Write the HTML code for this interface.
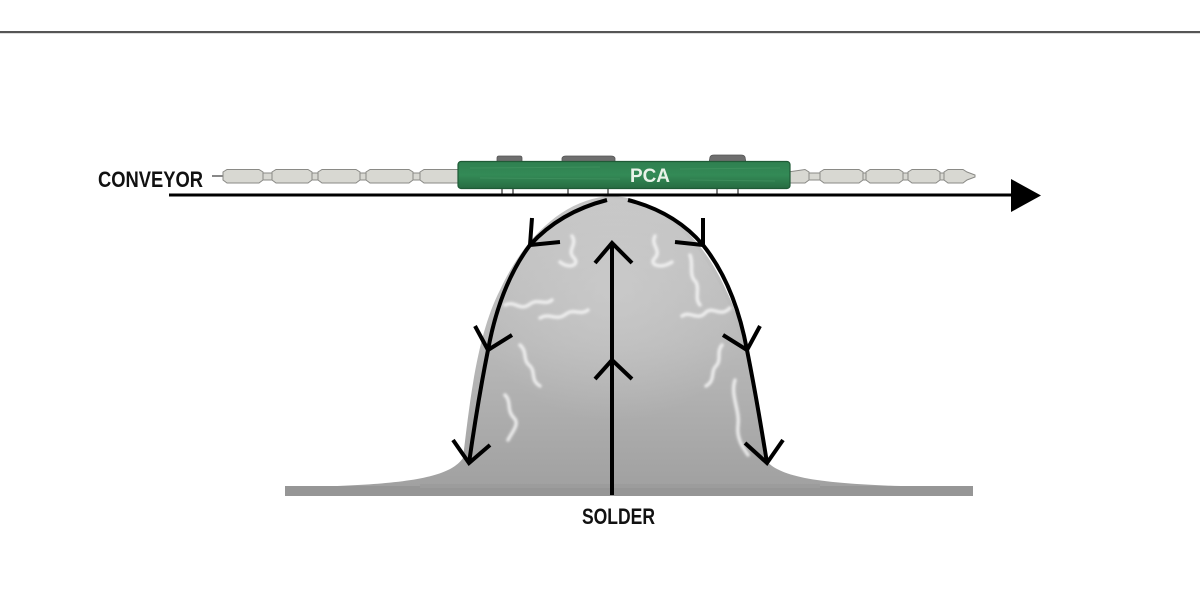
<!DOCTYPE html>
<html>
<head>
<meta charset="utf-8">
<style>
  html,body{margin:0;padding:0;background:#fff;}
  body{width:1200px;height:600px;overflow:hidden;}
  svg{display:block;}
  text{font-family:"Liberation Sans",Arial,sans-serif;font-weight:bold;}
</style>
</head>
<body>
<svg width="1200" height="600" viewBox="0 0 1200 600" xmlns="http://www.w3.org/2000/svg">
  <defs>
    <linearGradient id="domeG" x1="0" y1="0" x2="0" y2="1">
      <stop offset="0" stop-color="#c6c6c6"/>
      <stop offset="0.5" stop-color="#b9b9b9"/>
      <stop offset="1" stop-color="#a0a0a0"/>
    </linearGradient>
    <radialGradient id="domeR" cx="0.5" cy="0.35" r="0.5">
      <stop offset="0" stop-color="#d0d0d0" stop-opacity="0.6"/>
      <stop offset="1" stop-color="#d0d0d0" stop-opacity="0"/>
    </radialGradient>
    <linearGradient id="pcaG" x1="0" y1="0" x2="0" y2="1">
      <stop offset="0" stop-color="#2f8050"/>
      <stop offset="0.5" stop-color="#338a56"/>
      <stop offset="1" stop-color="#276c42"/>
    </linearGradient>
    <filter id="blur1"><feGaussianBlur stdDeviation="1.2"/></filter>
  </defs>

  <!-- top rule -->
  <rect x="0" y="31" width="1200" height="2" fill="#555"/>
  <rect x="0" y="33" width="1200" height="1" fill="#ddd"/>

  <!-- dome -->
  <path d="M300,487 C410,485 450,477 463,458 C470,400 477,335 500,290 C525,236 565,198 612,196 C660,198 702,236 726,290 C749,336 757,400 764,458 C778,478 820,485 940,487 L940,492 L300,492 Z" fill="url(#domeG)"/>
  <path d="M470,460 C476,400 482,335 505,290 C528,238 566,200 612,198 C658,200 698,238 722,290 C745,336 752,400 758,460 Z" fill="url(#domeR)"/>
  <!-- solder base -->
  <rect x="285" y="486" width="688" height="10" fill="#969696"/>
  <rect x="420" y="484" width="400" height="4" fill="#9c9c9c"/>

  <!-- white streaks -->
  <g fill="none" stroke="#f6f6f6" stroke-width="3.5" opacity="0.85" filter="url(#blur1)" stroke-linecap="round">
    <path d="M572,236 C578,245 566,250 574,258 C580,264 570,270 560,262"/>
    <path d="M540,318 C550,312 556,322 566,314 C574,308 580,316 588,310"/>
    <path d="M505,305 C515,300 520,312 530,304 C538,298 545,306 552,300"/>
    <path d="M520,345 C528,352 522,360 530,366 C536,372 530,380 540,386"/>
    <path d="M505,395 C512,402 506,410 514,418 C520,424 512,432 508,440"/>
    <path d="M655,236 C650,245 662,250 655,258 C648,264 660,270 672,262"/>
    <path d="M682,316 C690,310 698,322 706,312 C714,306 720,318 730,308"/>
    <path d="M690,255 C694,265 688,275 696,282 C700,290 694,298 700,305"/>
    <path d="M722,345 C716,352 722,360 716,366 C710,372 716,380 706,386"/>
    <path d="M735,380 C730,395 740,410 738,425 C736,440 745,450 748,455"/>
  </g>

  <!-- conveyor chain left -->
  <rect x="212" y="175" width="11" height="2" fill="#888"/>
  <g fill="#d8d8d2" stroke="#8a8a86" stroke-width="1">
    <rect x="258" y="173" width="18" height="7" />
    <rect x="308" y="173" width="14" height="7" />
    <rect x="356" y="173" width="16" height="7" />
    <rect x="408" y="173" width="16" height="7" />
    <polygon points="223,172 227,169.5 259,169.5 263,172 263,180 259,183 227,183 223,180"/>
    <polygon points="272,172 276,169.5 308,169.5 312,172 312,180 308,183 276,183 272,180"/>
    <polygon points="318,172 322,169.5 356,169.5 360,172 360,180 356,183 322,183 318,180"/>
    <polygon points="366,172 370,169.5 409,169.5 413,172 413,180 409,183 370,183 366,180"/>
    <polygon points="420,172 424,169.5 458,169.5 460,172 460,180 458,183 424,183 420,180"/>
  </g>
  <!-- conveyor chain right -->
  <g fill="#d8d8d2" stroke="#8a8a86" stroke-width="1">
    <rect x="806" y="173" width="16" height="7"/>
    <rect x="860" y="173" width="10" height="7"/>
    <rect x="900" y="173" width="12" height="7"/>
    <rect x="937" y="173" width="10" height="7"/>
    <polygon points="788,172 805,169.5 809,172 809,180 805,183 788,183"/>
    <polygon points="820,172 824,169.5 859,169.5 863,172 863,180 859,183 824,183 820,180"/>
    <polygon points="866,172 870,169.5 899,169.5 903,172 903,180 899,183 870,183 866,180"/>
    <polygon points="908,172 912,169.5 936,169.5 940,172 940,180 936,183 912,183 908,180"/>
    <polygon points="944,172 948,169.5 963,169.5 967,172 975,175 975,177 967,180 963,183 948,183 944,180"/>
  </g>

  <!-- PCA components -->
  <g fill="#6e6e6e" stroke="#555" stroke-width="0.8">
    <path d="M497,163 L497,158 Q497,156 499,156 L520,156 Q522,156 522,158 L522,163 Z"/>
    <path d="M562,163 L562,158 Q563,156 566,156 L611,156 Q614,156 615,158 L615,163 Z"/>
    <path d="M709,163 L710,157 Q711,155 714,155 L741,155 Q744,155 745,157 L746,163 Z"/>
  </g>
  <!-- legs -->
  <g stroke="#555" stroke-width="1.5">
    <line x1="502" y1="186" x2="502" y2="194"/>
    <line x1="513" y1="186" x2="513" y2="194"/>
    <line x1="568" y1="186" x2="568" y2="194"/>
    <line x1="608" y1="186" x2="608" y2="194"/>
    <line x1="717" y1="186" x2="717" y2="194"/>
    <line x1="738" y1="186" x2="738" y2="194"/>
  </g>
  <!-- PCA board -->
  <rect x="458" y="161.5" width="332" height="27" rx="3" fill="url(#pcaG)" stroke="#1f5a36" stroke-width="1.2"/>
  <g stroke="#4a9a68" stroke-width="1" opacity="0.5">
    <line x1="470" y1="168" x2="600" y2="167"/>
    <line x1="480" y1="178" x2="620" y2="179"/>
    <line x1="680" y1="169" x2="780" y2="168"/>
    <line x1="690" y1="180" x2="775" y2="181"/>
  </g>
  <text x="630" y="182" font-size="19" fill="#e8f2e8" textLength="40" lengthAdjust="spacingAndGlyphs">PCA</text>

  <!-- conveyor line & arrow -->
  <rect x="169" y="193.5" width="845" height="3" fill="#000"/>
  <polygon points="1011,179 1041,195.5 1011,212" fill="#000"/>

  <!-- labels -->
  <text x="98" y="187" font-size="22" fill="#111" textLength="105" lengthAdjust="spacingAndGlyphs">CONVEYOR</text>
  <text x="582" y="524" font-size="22" fill="#111" textLength="73" lengthAdjust="spacingAndGlyphs">SOLDER</text>

  <!-- flow arrows -->
  <g fill="none" stroke="#000" stroke-width="4" stroke-linejoin="miter">
    <path d="M607,200 Q560,212 530,245 Q500,285 488,350 Q478,400 469,463"/>
    <path d="M628,200 Q675,212 703,245 Q735,285 747,350 Q757,400 767,463"/>
    <polyline points="532,218 530,245 560,242"/>
    <polyline points="475,326 488,350 512,335"/>
    <polyline points="453,440 469,463 490,445"/>
    <polyline points="703,218 703,245 675,242"/>
    <polyline points="723,335 747,350 760,326"/>
    <polyline points="745,443 767,463 783,440"/>
    <line x1="612" y1="243" x2="612" y2="495"/>
    <polyline points="595,263 612,243 632,263"/>
    <polyline points="595,379 612,360 632,379"/>
  </g>
</svg>
</body>
</html>
